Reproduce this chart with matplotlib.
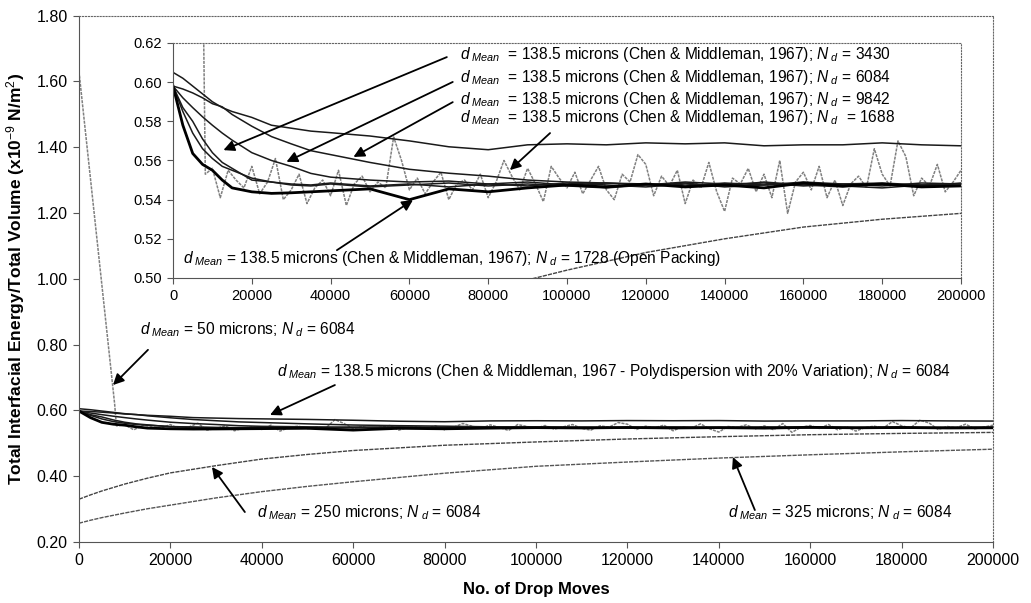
import numpy as np
import matplotlib
matplotlib.use("Agg")
import matplotlib.pyplot as plt

plt.rcParams["font.family"] = ["Liberation Sans", "DejaVu Sans"]
plt.rcParams["mathtext.fontset"] = "custom"
plt.rcParams["mathtext.rm"] = "Liberation Sans"
plt.rcParams["mathtext.it"] = "Liberation Sans:italic"
plt.rcParams["mathtext.bf"] = "Liberation Sans:bold"

# ─────────────────────────────
# Data
# ─────────────────────────────
# grid for the d = 138.5 micron runs
x_mono = [0, 2500, 5000, 7500, 10000, 12500, 15000, 20000, 25000, 30000, 35000,
          40000, 50000, 60000, 70000, 80000, 90000, 100000, 110000, 120000,
          130000, 140000, 150000, 160000, 170000, 180000, 190000, 200000]

poly_6084 = [0.605, 0.602, 0.598, 0.594, 0.590, 0.587, 0.585, 0.582, 0.578, 0.5765,
             0.575, 0.5742, 0.5725, 0.5700, 0.5670, 0.5655, 0.5680, 0.5685, 0.5680,
             0.5690, 0.5685, 0.5690, 0.5675, 0.5680, 0.5680, 0.5690, 0.5680, 0.5675]
n9842 = [0.598, 0.5965, 0.5945, 0.592, 0.589, 0.5874, 0.5835, 0.5775, 0.5722, 0.5685,
         0.5650, 0.5630, 0.5590, 0.5555, 0.5535, 0.5520, 0.5500, 0.5490, 0.5485,
         0.5475, 0.5490, 0.5480, 0.5485, 0.5470, 0.5480, 0.5485, 0.5475, 0.5480]
n6084 = [0.598, 0.592, 0.587, 0.5823, 0.578, 0.574, 0.5704, 0.5640, 0.5600, 0.5570,
         0.5534, 0.5515, 0.5500, 0.5490, 0.5495, 0.5480, 0.5490, 0.5475, 0.5485,
         0.5480, 0.5470, 0.5485, 0.5475, 0.5490, 0.5480, 0.5470, 0.5485, 0.5480]
n3430 = [0.598, 0.587, 0.5800, 0.5710, 0.5640, 0.5590, 0.5560, 0.5500, 0.5490, 0.5480,
         0.5475, 0.5485, 0.5470, 0.5480, 0.5465, 0.5480, 0.5470, 0.5485, 0.5475,
         0.5465, 0.5480, 0.5470, 0.5490, 0.5475, 0.5465, 0.5480, 0.5470, 0.5485]
n1688 = [0.598, 0.585, 0.574, 0.566, 0.561, 0.557, 0.555, 0.551, 0.549, 0.5475,
         0.5470, 0.5480, 0.5465, 0.5475, 0.5485, 0.5470, 0.5480, 0.5470, 0.5460,
         0.5475, 0.5485, 0.5465, 0.5475, 0.5480, 0.5470, 0.5460, 0.5475, 0.5470]
n1728_open = [0.598, 0.578, 0.5636, 0.5580, 0.5550, 0.5500, 0.5460, 0.5440, 0.5432,
              0.5435, 0.5440, 0.5445, 0.5455, 0.5400, 0.5455, 0.5440, 0.5460, 0.5475,
              0.5465, 0.5480, 0.5465, 0.5475, 0.5460, 0.5485, 0.5470, 0.5480, 0.5465,
              0.5470]

# d = 50 microns: steep drop then a noisy plateau
x_d50_head = [0, 7800, 8200]
d50_head = [1.63, 0.620, 0.553]
x_d50_tail = list(range(10000, 200001, 2000))
d50_tail = [0.556, 0.541, 0.555, 0.550, 0.546, 0.557, 0.543, 0.549, 0.561, 0.540,
            0.545, 0.553, 0.538, 0.546, 0.550, 0.542, 0.555, 0.537, 0.548, 0.552,
            0.544, 0.549, 0.546, 0.572, 0.560, 0.545, 0.551, 0.543, 0.549, 0.554,
            0.540, 0.548, 0.550, 0.545, 0.553, 0.541, 0.549, 0.560, 0.552, 0.545,
            0.556, 0.548, 0.539, 0.557, 0.551, 0.546, 0.554, 0.543, 0.550, 0.557,
            0.545, 0.540, 0.553, 0.549, 0.563, 0.558, 0.542, 0.552, 0.547, 0.555,
            0.538, 0.550, 0.546, 0.559, 0.544, 0.534, 0.551, 0.548, 0.556, 0.544,
            0.553, 0.541, 0.560, 0.533, 0.549, 0.554, 0.545, 0.557, 0.541, 0.550,
            0.537, 0.548, 0.552, 0.546, 0.566, 0.553, 0.547, 0.570, 0.562, 0.542,
            0.551, 0.547, 0.558, 0.544, 0.549, 0.555]

# d = 250 and 325 microns
x_big = [0, 2500, 5000, 10000, 15000, 20000, 30000, 40000, 50000, 60000, 80000,
         100000, 120000, 140000, 160000, 180000, 200000]
d250 = [0.330, 0.343, 0.355, 0.376, 0.394, 0.410, 0.432, 0.452, 0.466, 0.478, 0.494,
        0.504, 0.513, 0.520, 0.526, 0.530, 0.533]
d325 = [0.257, 0.266, 0.274, 0.288, 0.301, 0.312, 0.334, 0.353, 0.369, 0.383, 0.409,
        0.430, 0.443, 0.455, 0.465, 0.474, 0.482]

main_yticks = [0.20, 0.40, 0.60, 0.80, 1.00, 1.20, 1.40, 1.60, 1.80]
inset_yticks = [0.50, 0.52, 0.54, 0.56, 0.58, 0.60, 0.62]
xticks = list(range(0, 200001, 20000))

DM = r"$d_{\ Mean}$"
ND = r"$N_{\ d}$"
inset_labels = [
    f"{DM}  = 138.5 microns (Chen & Middleman, 1967); {ND} = 3430",
    f"{DM}  = 138.5 microns (Chen & Middleman, 1967); {ND} = 6084",
    f"{DM}  = 138.5 microns (Chen & Middleman, 1967); {ND} = 9842",
    f"{DM}  = 138.5 microns (Chen & Middleman, 1967); {ND}  = 1688",
    f"{DM} = 138.5 microns (Chen & Middleman, 1967); {ND} = 1728 (Open Packing)",
]
main_labels = [
    f"{DM} = 50 microns; {ND} = 6084",
    f"{DM} = 138.5 microns (Chen & Middleman, 1967 - Polydispersion with 20% Variation); {ND} = 6084",
    f"{DM} = 250 microns; {ND} = 6084",
    f"{DM} = 325 microns; {ND} = 6084",
]

# ─────────────────────────────
# Figure
# ─────────────────────────────
fig = plt.figure(figsize=(10.31, 6.03), dpi=100)
ax = fig.add_axes([0.0766, 0.1012, 0.8865, 0.873])
axi = fig.add_axes([0.1678, 0.539, 0.7643, 0.3897])

dark = "#1a1a1a"
grey = "#808080"
arrow = dict(arrowstyle="-|>", color="black", lw=1.3, mutation_scale=16,
             shrinkA=0, shrinkB=0)


def draw_series(a):
    a.plot(x_d50_head + x_d50_tail, d50_head + d50_tail, color=grey, lw=1.1,
           linestyle=(0, (2, 0.7)))
    a.plot(x_big, d250, color="#444444", lw=1.0, linestyle=(0, (3, 0.8)))
    a.plot(x_big, d325, color="#555555", lw=1.0, linestyle=(0, (3, 0.8)))
    a.plot(x_mono, poly_6084, color=dark, lw=1.1)
    for s in (n9842, n6084, n3430, n1688):
        a.plot(x_mono, s, color=dark, lw=1.1)
    a.plot(x_mono, n1728_open, color="black", lw=2.0)


def style_axes(a, fs):
    for side in ("top", "right"):
        a.spines[side].set_linestyle(":")
        a.spines[side].set_color("#666666")
    for side in ("left", "bottom"):
        a.spines[side].set_color("#555555")
    a.tick_params(direction="out", length=4, color="#555555", labelsize=fs, pad=4)
    a.set_xticks(xticks)
    a.set_xticklabels([str(t) for t in xticks])


# main plot
draw_series(ax)
ax.set_xlim(0, 200000)
ax.set_ylim(0.2, 1.8)
ax.set_yticks(main_yticks)
ax.set_yticklabels([f"{t:.2f}" for t in main_yticks])
style_axes(ax, 11.5)
ax.set_xlabel("No. of Drop Moves", fontsize=12, fontweight="bold", labelpad=10)
ax.set_ylabel(r"Total Interfacial Energy/Total Volume (x10$^{-9}$ N/m$^{2}$)",
              fontsize=12.5, fontweight="bold", labelpad=7)

# inset
draw_series(axi)
axi.set_xlim(0, 200000)
axi.set_ylim(0.50, 0.62)
axi.set_yticks(inset_yticks)
axi.set_yticklabels([f"{t:.2f}" for t in inset_yticks])
style_axes(axi, 10.5)

# inset annotations
inset_text_pos = [(72800, 0.6139), (72800, 0.6026), (72800, 0.5909), (72800, 0.5817),
                  (2540, 0.5101)]
inset_arrows = [((69500, 0.6128), (12800, 0.5653)),
                ((71000, 0.6001), (28800, 0.5593)),
                ((71000, 0.5898), (45800, 0.5618)),
                ((95700, 0.5740), (85500, 0.5551)),
                ((41600, 0.5142), (60900, 0.5398))]
for lab, (tx, ty), (start, tip) in zip(inset_labels, inset_text_pos, inset_arrows):
    axi.annotate("", xy=tip, xytext=start, arrowprops=arrow)
    axi.text(tx, ty, lab, fontsize=11.2, ha="left", va="center", color="black")

# main annotations
main_text_pos = [(13350, 0.844), (43300, 0.717), (38900, 0.288), (142000, 0.288)]
main_arrows = [((15100, 0.784), (7440, 0.677)),
               ((56000, 0.677), (41800, 0.586)),
               ((36300, 0.291), (29100, 0.428)),
               ((147900, 0.297), (143100, 0.458))]
for lab, (tx, ty), (start, tip) in zip(main_labels, main_text_pos, main_arrows):
    ax.annotate("", xy=tip, xytext=start, arrowprops=arrow)
    ax.text(tx, ty, lab, fontsize=11.2, ha="left", va="center", color="black")

fig.savefig("out.png", dpi=100)
